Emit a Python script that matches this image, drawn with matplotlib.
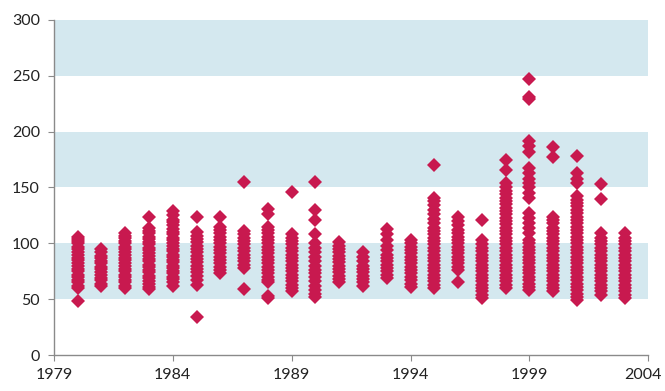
import matplotlib.pyplot as plt
from matplotlib.transforms import ScaledTranslation

plt.rcParams['font.family'] = ['Lato', 'DejaVu Sans']

years = list(range(1980, 2004))

v1980 = [48, 60, 62, 65, 67, 70, 72, 75, 77, 80, 82, 85, 87, 90, 92, 95, 97, 100, 102, 104, 106]
v1981 = [62, 64, 67, 69, 72, 74, 77, 79, 82, 84, 87, 89, 92, 95]
v1982 = [60, 62, 65, 67, 70, 72, 75, 77, 80, 82, 85, 87, 90, 92, 95, 97, 100, 102, 105, 107, 109]
v1983 = [59, 61, 64, 66, 69, 71, 74, 76, 79, 81, 84, 86, 89, 91, 94, 96, 99, 101, 104, 106, 109, 111, 114, 124]
v1984 = [62, 65, 68, 70, 73, 75, 78, 80, 83, 85, 88, 90, 93, 95, 98, 100, 103, 105, 108, 110, 113, 116, 119, 121, 125, 129]
v1985 = [34, 63, 67, 71, 74, 77, 80, 83, 86, 89, 92, 95, 98, 101, 104, 107, 110, 124]
v1986 = [73, 76, 79, 82, 85, 88, 91, 94, 97, 100, 103, 106, 109, 112, 115, 124]
v1987 = [59, 78, 81, 84, 87, 90, 93, 96, 99, 102, 105, 108, 111, 155]
v1988 = [51, 53, 65, 67, 70, 73, 76, 79, 82, 85, 88, 91, 94, 97, 100, 103, 106, 109, 112, 115, 126, 131]
v1989 = [57, 60, 63, 66, 69, 72, 75, 78, 81, 84, 87, 90, 93, 96, 99, 102, 105, 108, 146]
v1990 = [52, 55, 58, 62, 66, 70, 73, 76, 80, 84, 88, 92, 96, 100, 108, 121, 130, 155]
v1991 = [65, 68, 71, 74, 77, 80, 83, 86, 89, 92, 95, 98, 101]
v1992 = [62, 65, 68, 71, 74, 77, 80, 84, 88, 92]
v1993 = [69, 72, 75, 78, 81, 84, 87, 90, 94, 98, 103, 108, 113]
v1994 = [61, 64, 67, 70, 73, 76, 79, 82, 85, 88, 91, 94, 97, 100, 103]
v1995 = [60, 63, 66, 69, 72, 75, 78, 81, 84, 87, 90, 93, 96, 99, 102, 105, 108, 111, 114, 118, 122, 126, 130, 134, 138, 141, 170]
v1996 = [65, 76, 79, 82, 85, 88, 91, 94, 97, 100, 103, 106, 109, 112, 116, 120, 124]
v1997 = [51, 54, 57, 60, 63, 66, 69, 72, 75, 78, 81, 84, 87, 90, 93, 96, 99, 103, 121]
v1998 = [60, 63, 66, 69, 72, 75, 78, 81, 84, 87, 90, 93, 96, 99, 102, 105, 108, 111, 114, 117, 120, 123, 126, 129, 132, 135, 138, 141, 144, 147, 150, 154, 166, 175]
v1999 = [58, 61, 64, 67, 70, 73, 76, 79, 82, 85, 88, 91, 94, 97, 100, 103, 109, 114, 118, 123, 127, 141, 145, 150, 154, 158, 163, 167, 182, 187, 192, 229, 231, 247]
v2000 = [57, 60, 63, 66, 69, 72, 75, 78, 81, 84, 87, 90, 93, 96, 99, 102, 105, 108, 111, 114, 118, 121, 124, 177, 186]
v2001 = [49, 52, 55, 58, 61, 64, 67, 70, 73, 76, 79, 82, 85, 88, 91, 94, 97, 100, 103, 106, 109, 112, 115, 118, 121, 124, 127, 130, 133, 136, 139, 142, 154, 158, 163, 178]
v2002 = [54, 57, 60, 63, 66, 69, 72, 75, 78, 81, 84, 87, 90, 93, 96, 99, 102, 105, 109, 140, 153]
v2003 = [51, 54, 57, 60, 63, 66, 69, 72, 75, 78, 81, 84, 87, 90, 93, 96, 99, 102, 105, 109]

values = [v1980, v1981, v1982, v1983, v1984, v1985, v1986, v1987, v1988, v1989, v1990, v1991,
          v1992, v1993, v1994, v1995, v1996, v1997, v1998, v1999, v2000, v2001, v2002, v2003]

x_ticks = [1979, 1984, 1989, 1994, 1999, 2004]
y_ticks = [0, 50, 100, 150, 200, 250, 300]
bands = [(50, 100), (150, 200), (250, 300)]

fig = plt.figure(figsize=(6.65, 3.91), dpi=100)
ax = fig.add_axes([0.081, 0.092, 0.894, 0.857])

# light blue stripes behind the points
for lo, hi in bands:
    ax.axhspan(lo, hi, color='#D4E8EF', zorder=0, lw=0)

for yr, vals in zip(years, values):
    ax.plot([yr] * len(vals), vals, linestyle='none', marker='D', markersize=7,
            color='#C8194F', markeredgewidth=0, zorder=3)

ax.set_xlim(1979, 2004)
ax.set_ylim(0, 300)
ax.set_xticks(x_ticks)
ax.set_yticks(y_ticks)

for side in ['top', 'right']:
    ax.spines[side].set_visible(False)
for side in ['left', 'bottom']:
    ax.spines[side].set_color('#8a8a8a')
    ax.spines[side].set_linewidth(1.0)

ax.tick_params(axis='both', colors='#8a8a8a', labelcolor='#222222', labelsize=11.5, length=4, direction='out')
ax.tick_params(axis='x', pad=5)
ax.tick_params(axis='y', pad=6)

# nudge the last year label left so it stays inside the figure
last = ax.get_xticklabels()[-1]
last.set_transform(last.get_transform() + ScaledTranslation(-4 / 72, 0, fig.dpi_scale_trans))

plt.savefig('out.png', dpi=100)
